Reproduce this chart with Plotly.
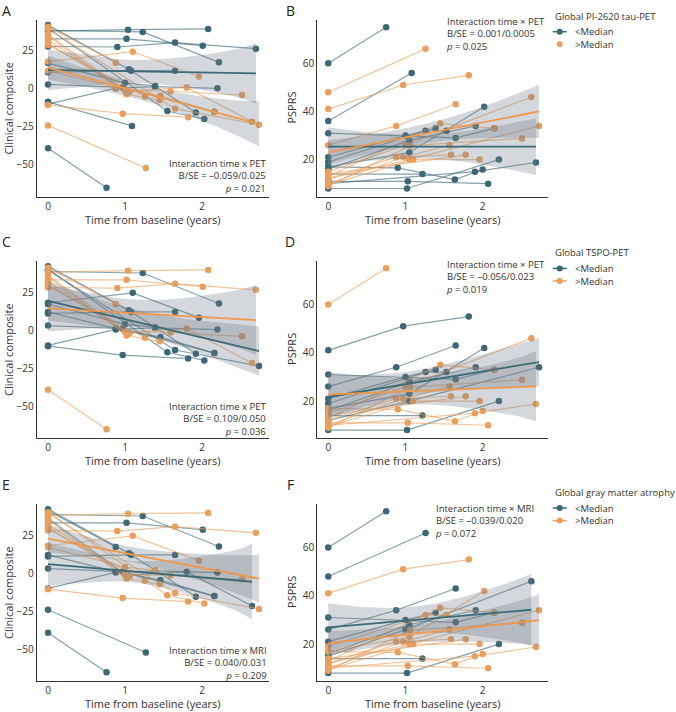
import plotly.graph_objects as go

# ---------------- data: clinical composite (panels A, C, E) ----------------
cc_times = [
    [0, 1.04, 2.08], [0, 1.23, 2.22], [0, 1.02, 2.01], [0, 0.9, 1.65, 2.7],
    [0, 1.1, 1.96], [0, 0.88], [0, 1.08, 1.65], [0, 0.97, 2.16],
    [0, 0.88, 1.39, 2.2], [0, 1.02, 1.45], [0, 1.55, 2.03], [0, 1.65, 2.74],
    [0, 0.97, 1.82], [0, 1.09], [0, 1.27], [0, 0.76],
    [0, 1.0, 1.59, 2.52], [0, 1.02, 1.8, 2.65], [0, 0.88, 1.46, 2.16], [0, 1.0, 1.39],
    [0, 1.05, 1.92], [0, 1.26], [0], [0, 1.06],
]
cc_values = [
    [38, 39, 39.5], [38.5, 37.5, 17.5], [33, 33, 28.5], [28, 27.6, 30.5, 26.5],
    [18, 24.5, 8.2], [41, 17.2], [11, 12, 12], [3, 1, -15],
    [-10, 0.5, 1.5, 0.4], [35, -3.5, -7.3], [40, -14.5, -19.8], [39.5, -13, -23.5],
    [-10.5, -16.3, -18.6], [-8.5, -24.3], [-24, -52], [-39, -65],
    [30, -1, -1.5, -4], [36, -1.5, 1, -21.5], [12, 1, -4.5, -15], [17, 4, 2],
    [42, 13, -15.5], [29, -5], [31], [32, -2],
]
# group: 0 = <Median, 1 = >Median, None = not available
cc_tau = [0, 0, 0, 0, 1, 1, 0, 0, 0, 1, 0, 1, 1, 0, 1, 0, 1, 1, 1, 0, 0, 1, 1, 1]
cc_tspo = [1, 0, 1, 1, 0, 1, 0, 0, 0, 1, 0, 0, 0, None, None, 1, 1, 1, 0, 0, 0, 1, 1, 1]
cc_mri = [1, 0, 0, 1, 1, 0, 0, 0, 0, 1, 1, 1, 1, None, 0, 0, 1, 0, 0, 1, 0, 1, 1, 1]

# ---------------- data: PSPRS (panels B, D, F) ----------------
ps_times = [
    [0, 0.75], [0, 0.97, 1.82], [0, 1.26], [0, 1.08], [0, 0.88, 1.65],
    [0, 1.05, 2.02], [0, 1.0, 2.63], [0, 1.05, 2.73], [0, 1.65, 2.15], [0, 1.22],
    [0, 0.9, 1.64, 2.0], [0, 1.02, 2.21], [0, 1.03, 2.07], [0, 1.9, 2.69], [0, 1.0, 1.39],
    [0, 1.26, 1.53], [0, 1.45, 2.15], [0, 0.97, 1.57], [0, 1.06, 2.51], [0, 0.88, 1.59],
    [0, 1.1, 1.96], [0, 1.05, 1.91], [0, 1.78],
]
ps_values = [
    [60, 75], [41, 51, 55], [48, 66], [36, 56], [26, 34, 43],
    [17, 23, 42], [15, 26, 46], [12, 20, 34], [31, 29, 33], [14, 14],
    [17, 16.6, 11.7, 15.9], [8, 8, 20], [11, 11, 10], [10, 15, 18.8], [21, 30, 33],
    [19, 32, 32], [13, 35, 33], [10, 21, 26], [9, 25.8, 28.8], [12, 21, 22],
    [9.5, 20, 20], [16, 28, 34], [14, 22],
]
ps_tau = [0, 1, 1, 0, 1, 0, 1, 1, 0, 0, 0, 0, 0, 0, 0, 0, 1, 1, 1, 1, 1, 0, 1]
ps_tspo = [1, 0, None, None, 0, 0, 1, 0, 0, 0, 1, 0, 1, 1, 0, 0, 1, 1, 1, 1, 1, 0, 1]
ps_mri = [0, 1, 0, None, 0, 1, 0, 1, 0, 0, 1, 0, 1, 1, 0, 1, 1, 1, 1, 1, 1, 0, 1]

# ---------------- model fits (panels A..F; [<Median, >Median]) ----------------
panel_letters = ["A", "B", "C", "D", "E", "F"]
fit_intercept = [[12.5, 14.0], [25.4, 23.0], [19.2, 14.3], [21.7, 22.8], [5.9, 22.6], [26.9, 20.4]]
fit_slope = [[-0.81, -13.5], [0.0, 6.23], [-12.0, -2.85], [5.3, 1.23], [-4.34, -9.53], [2.78, 3.48]]
band_t = [0, 0.5, 1.0, 1.5, 2.0, 2.5]  # last band point is at the group's last visit
band_halfwidth = [
    [[13.3, 10.5, 7.5, 8.5, 11.5, 16.5, 20.0], [8.0, 6.0, 5.0, 5.5, 8.0, 12.0, 15.0]],
    [[8.0, 6.0, 5.0, 5.5, 7.5, 10.5, 11.75], [5.0, 4.0, 3.8, 4.5, 6.5, 9.5, 11.0]],
    [[13.0, 10.0, 8.0, 8.5, 11.0, 14.5, 16.0], [15.0, 12.0, 9.0, 10.0, 14.0, 19.5, 23.0]],
    [[9.0, 6.5, 5.0, 5.5, 7.0, 9.0, 10.0], [9.0, 7.0, 5.5, 6.5, 9.0, 12.5, 14.5]],
    [[14.0, 10.0, 7.0, 9.0, 14.0, 21.0, 25.0], [9.0, 6.5, 5.0, 6.0, 9.0, 13.0, 15.8]],
    [[10.0, 7.0, 5.5, 6.5, 9.5, 13.5, 15.0], [5.0, 4.0, 3.5, 4.5, 6.5, 9.0, 10.8]],
]
stats_text = [
    ["Interaction time x PET", "B/SE = \u20130.059/0.025", "<i>p</i> = 0.021"],
    ["Interaction time \u00d7 PET", "B/SE = 0.001/0.0005", "<i>p</i> = 0.025"],
    ["Interaction time x PET", "B/SE = 0.109/0.050", "<i>p</i> = 0.036"],
    ["Interaction time \u00d7 PET", "B/SE = \u20130.056/0.023", "<i>p</i> = 0.019"],
    ["Interaction time x MRI", "B/SE = 0.040/0.031", "<i>p</i> = 0.209"],
    ["Interaction time \u00d7 MRI", "B/SE = \u20130.039/0.020", "<i>p</i> = 0.072"],
]
legend_titles = ["Global PI-2620 tau-PET", "Global TSPO-PET", "Global gray matter atrophy"]
legend_labels = ["<Median", ">Median"]
left_yticks = [-50, -25, 0, 25]
right_yticks = [20, 40, 60]
x_ticks = [0, 1, 2]

# ---------------- styling ----------------
W, H = 676, 712
FONT = "Open Sans"
TXT = "#333333"
COL = ["#3c6774", "#e99f5e"]
COL_LINE = ["rgba(60,103,116,0.62)", "rgba(233,159,94,0.62)"]
COL_FIT = ["#3d6a77", "#ee984b"]
BAND = "rgba(112,124,136,0.30)"
SMALL = 9.5


def px(x):
    return x / W


def py(y):
    return 1 - y / H


col_x = [[36.7, 269.3], [317.3, 548.0]]
row_y = [[19.5, 196.7], [260.5, 438.3], [503.5, 681.3]]
xr = [[-0.147, 2.874], [-0.142, 2.846]]
yr = [[-70.9, 45.7], [4.6, 78.2]]

panels = [
    (cc_times, cc_values, cc_tau), (ps_times, ps_values, ps_tau),
    (cc_times, cc_values, cc_tspo), (ps_times, ps_values, ps_tspo),
    (cc_times, cc_values, cc_mri), (ps_times, ps_values, ps_mri),
]

fig = go.Figure()
layout = dict(
    width=W, height=H, margin=dict(l=0, r=0, t=0, b=0),
    plot_bgcolor="white", paper_bgcolor="white", showlegend=False,
    font=dict(family=FONT, size=10, color=TXT),
)
annotations = []
shapes = []

for i, (times, values, groups) in enumerate(panels):
    row, col = i // 2, i % 2
    n = "" if i == 0 else str(i + 1)
    xa, ya = "x" + n, "y" + n
    layout["xaxis" + n] = dict(
        domain=[px(col_x[col][0]), px(col_x[col][1])], range=xr[col], anchor=ya,
        showline=True, linecolor="#333333", linewidth=1.1, ticks="", showgrid=False,
        zeroline=False, tickvals=x_ticks, tickfont=dict(size=10, color=TXT),
    )
    layout["yaxis" + n] = dict(
        domain=[py(row_y[row][1]), py(row_y[row][0])], range=yr[col], anchor=xa,
        showline=True, linecolor="#333333", linewidth=1.1, ticks="", showgrid=False,
        zeroline=False, tickvals=left_yticks if col == 0 else right_yticks,
        tickfont=dict(size=10, color=TXT),
    )
    # subject trajectories
    tmax = [0, 0]
    for g in (0, 1):
        xs, ys = [], []
        for t, v, grp in zip(times, values, groups):
            if grp != g:
                continue
            xs += list(t) + [None]
            ys += list(v) + [None]
            tmax[g] = max(tmax[g], max(t))
        fig.add_trace(go.Scatter(
            x=xs, y=ys, xaxis=xa, yaxis=ya, mode="lines+markers",
            line=dict(color=COL_LINE[g], width=1.2),
            marker=dict(color=COL[g], size=6.5, line=dict(width=0)),
            connectgaps=False, hoverinfo="skip",
        ))
    # confidence bands
    for g in (0, 1):
        b0, b1 = fit_intercept[i][g], fit_slope[i][g]
        tt = band_t + [tmax[g]]
        hw = band_halfwidth[i][g]
        lo = [b0 + b1 * t - h for t, h in zip(tt, hw)]
        up = [b0 + b1 * t + h for t, h in zip(tt, hw)]
        fig.add_trace(go.Scatter(x=tt, y=lo, xaxis=xa, yaxis=ya, mode="lines",
                                 line=dict(width=0, shape="spline"), hoverinfo="skip"))
        fig.add_trace(go.Scatter(x=tt, y=up, xaxis=xa, yaxis=ya, mode="lines",
                                 line=dict(width=0, shape="spline"), fill="tonexty",
                                 fillcolor=BAND, hoverinfo="skip"))
    # fitted lines
    for g in (0, 1):
        b0, b1 = fit_intercept[i][g], fit_slope[i][g]
        fig.add_trace(go.Scatter(x=[0, tmax[g]], y=[b0, b0 + b1 * tmax[g]], xaxis=xa, yaxis=ya,
                                 mode="lines", line=dict(color=COL_FIT[g], width=1.8),
                                 hoverinfo="skip"))

    # panel letter
    annotations.append(dict(text=panel_letters[i], x=px(6 if col == 0 else 290),
                            y=py([-1.0, 229.5, 473.0][row]),
                            xref="paper", yref="paper", showarrow=False,
                            xanchor="center", yanchor="top",
                            font=dict(size=14, color="#222222")))
    # axis titles
    yc = (row_y[row][0] + row_y[row][1]) / 2
    annotations.append(dict(text="Clinical composite" if col == 0 else "PSPRS",
                            x=px(8.5 if col == 0 else 291.5), y=py(yc), textangle=-90,
                            xref="paper", yref="paper", showarrow=False,
                            xanchor="center", yanchor="middle", font=dict(size=11, color=TXT)))
    annotations.append(dict(text="Time from baseline (years)",
                            x=px((col_x[col][0] + col_x[col][1]) / 2), y=py(row_y[row][1] + 22.5),
                            xref="paper", yref="paper", showarrow=False,
                            xanchor="center", yanchor="middle", font=dict(size=11, color=TXT)))
    # statistics text (three lines in one block)
    if col == 0:
        sx, sy, anc = 269.0, [176, 419.3, 663][row], "right"
    else:
        sx, sy, anc = [444.3, 444.3, 433.3][row], [34, 277, 520.7][row], "left"
    annotations.append(dict(text="<br>".join(stats_text[i]), x=px(sx), y=py(sy),
                            xref="paper", yref="paper", showarrow=False, align=anc,
                            xanchor=anc, yanchor="middle", font=dict(size=SMALL, color=TXT)))

# legends (one per row, right side)
leg_title_y = [16.0, 252.7, 492.3]
for row in range(3):
    ty = leg_title_y[row]
    annotations.append(dict(text=legend_titles[row], x=px(552.7), y=py(ty), xref="paper",
                            yref="paper", showarrow=False, xanchor="left", yanchor="middle",
                            font=dict(size=SMALL, color=TXT)))
    for g in (0, 1):
        iy = ty + 15.7 + 12.6 * g
        if not (row == 0 and g == 1):
            shapes.append(dict(type="line", xref="paper", yref="paper",
                               x0=px(552.7), x1=px(566.7), y0=py(iy), y1=py(iy),
                               line=dict(color=COL[g], width=1.5)))
        shapes.append(dict(type="circle", xref="paper", yref="paper",
                           x0=px(559.7 - 3), x1=px(559.7 + 3), y0=py(iy + 3), y1=py(iy - 3),
                           fillcolor=COL[g], line=dict(width=0)))
        annotations.append(dict(text=legend_labels[g], x=px(573.3), y=py(iy), xref="paper",
                                yref="paper", showarrow=False, xanchor="left", yanchor="middle",
                                font=dict(size=SMALL, color=TXT)))

layout["annotations"] = annotations
layout["shapes"] = shapes
fig.update_layout(**layout)
fig.write_html("out.html", config={"displayModeBar": False},
               post_script="document.body.style.margin='0';document.body.style.padding='0';")
